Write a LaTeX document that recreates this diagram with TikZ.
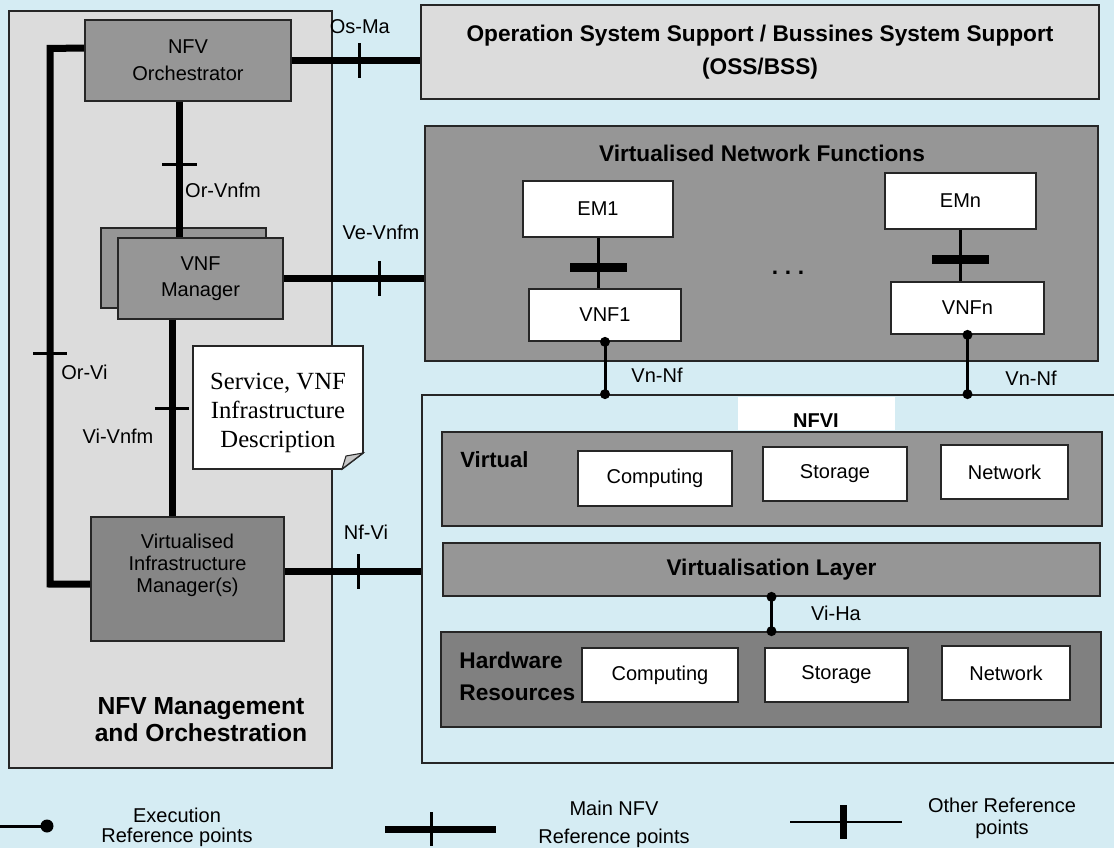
\documentclass[tikz,border=0pt]{standalone}
\usepackage{fontspec}
\setmainfont{Liberation Sans}
\newfontfamily\notefont{Liberation Serif}
\usetikzlibrary{calc, fit, positioning}

\definecolor{skyback}{RGB}{213,236,243}
\definecolor{panelgray}{RGB}{220,220,220}
\definecolor{boxgray}{RGB}{150,150,150}
\definecolor{vimgray}{RGB}{134,134,134}
\definecolor{hwgray}{RGB}{128,128,128}
\definecolor{foldgray}{RGB}{200,200,200}

\begin{document}
\begin{tikzpicture}[x=0.75pt, y=-0.75pt, semithick, font=\fontsize{15}{18}\selectfont]
\tikzstyle{outline}=[draw=black!85, line width=1.3pt, inner sep=0pt]
\tikzstyle{panel}=[outline, fill=panelgray]
\tikzstyle{grey box}=[outline, fill=boxgray, align=center]
\tikzstyle{white box}=[outline, fill=white, align=center]
\tikzstyle{headline}=[inner sep=0pt, align=center, font=\bfseries\fontsize{17}{24}\selectfont]
\tikzstyle{iface}=[inner sep=0pt]
\tikzstyle{main ref}=[line width=5.25pt]
\tikzstyle{exec ref}=[line width=2.25pt]
\tikzstyle{tickmark}=[sloped, fill=black, inner sep=0pt, minimum width=2.25pt, minimum height=26pt]
\tikzstyle{embar}=[fill=black, inner sep=0pt, minimum width=42.75pt, minimum height=6.75pt]
\tikzstyle{joint}=[circle, fill=black, inner sep=0pt, minimum size=7.5pt]
\tikzset{wh/.style 2 args={minimum width=#1*0.75pt, minimum height=#2*0.75pt}}

\useasboundingbox (0,0) rectangle (1114,848);
\fill[skyback] (0,0) rectangle (1114,848);

% management and orchestration
\node[panel, wh={323}{757}] (mano) at (170.5,389.5) {};
\node[headline, font=\bfseries\fontsize{18.5}{20}\selectfont] (manotitle) at (201,719.5) {NFV Management\\and Orchestration};
\node[grey box, wh={206}{81}, font=\fontsize{15}{20}\selectfont] (orch) at (188,60.5) {NFV\\Orchestrator};
\node[grey box, wh={165}{80}] (vnfmback) at (183.5,268) {};
\node[grey box, wh={165}{81}, font=\fontsize{15}{19.5}\selectfont] (vnfm) at (200.5,278.5) {VNF\\Manager};
\node[outline, fill=vimgray, wh={193}{124}] (vim) at (187.5,579) {};
\node[align=center, inner sep=0pt, font=\fontsize{15}{16.5}\selectfont] (vimtext) at (187.5,565) {Virtualised\\Infrastructure\\Manager(s)};

% description note
\draw[outline, fill=white] (193,346) -- (363,346) -- (363,453) -- (342,469) -- (193,469) -- cycle;
\draw[outline, line width=0.8pt, fill=foldgray] (342,469) -- (363,453) -- (346,456) -- cycle;
\node[align=center, inner sep=0pt, font=\notefont\fontsize{18.5}{22}\selectfont] (note) at (278,413) {Service, VNF\\Infrastructure\\Description};

% oss/bss
\node[panel, wh={678}{94}, align=center, font=\bfseries\fontsize{17}{24.75}\selectfont] (oss) at (760,52) {Operation System Support / Bussines System Support\\(OSS/BSS)};

% vnf block
\node[grey box, wh={673}{235}] (vnf) at (761.5,243.5) {};
\node[headline] (vnftitle) at (762,153) {Virtualised Network Functions};
\node[white box, wh={150}{56}] (ema) at (598,209) {EM1};
\node[white box, wh={152}{52}] (vnfa) at (605,315) {VNF1};
\node[white box, wh={151}{56}] (emn) at (960.5,201) {EMn};
\node[white box, wh={153}{52}] (vnfn) at (967.5,308) {VNFn};
\node[inner sep=0pt, font=\bfseries\fontsize{17}{20}\selectfont] (dots) at (788,273) {.\hspace{5pt}.\hspace{5pt}.};

\draw[exec ref] (ema) -- node[embar, pos=0.58] (bara) {} (ema.south |- vnfa.north);
\draw[exec ref] (emn) -- node[embar, pos=0.57] (barn) {} (emn.south |- vnfn.north);

% nfvi
\node[outline, fit={(422,395) (1130,763)}] (nfvi) {};
\node[fill=white, inner sep=0pt, wh={157}{33}] (nfvilabel) at (816.5,413.5) {};
\node[inner sep=0pt, font=\bfseries\fontsize{15}{18}\selectfont] (nfvitext) at (816,421) {NFVI};

\node[grey box, wh={660}{94}] (virtual) at (772,479) {};
\node[inner sep=0pt, anchor=west, font=\bfseries\fontsize{16.5}{20}\selectfont] (virtualtext) at (460,460) {Virtual};
\node[white box, wh={154}{55}] (vcomp) at (655,478.5) {Computing};
\node[white box, wh={144}{54}] (vstor) at (835,474) {Storage};
\node[white box, wh={127}{54}] (vnet) at (1004.5,472) {Network};

\node[grey box, wh={657}{53}, font=\bfseries\fontsize{17}{20}\selectfont] (vlayer) at (771.5,569.5) {Virtualisation Layer};

\node[outline, fill=hwgray, wh={660}{95}] (hw) at (771,679.5) {};
\node[inner sep=0pt, anchor=west, align=left, font=\bfseries\fontsize{17}{24}\selectfont] (hwtext) at (459,676) {Hardware\\Resources};
\node[white box, wh={156}{54}] (hcomp) at (660,675) {Computing};
\node[white box, wh={143}{54}] (hstor) at (836.5,675) {Storage};
\node[white box, wh={128}{54}] (hnet) at (1006,673) {Network};

% execution reference points
\draw[exec ref] (vnfa.south) node[joint] (ja) {} -- (vnfa.south |- nfvi.north) node[joint] (jb) {};
\draw[exec ref] (vnfn.south) node[joint] (jc) {} -- (vnfn.south |- nfvi.north) node[joint] (jd) {};
\draw[exec ref] (vlayer.south) node[joint] (je) {} -- (vlayer.south |- hw.north) node[joint] (jf) {};
\node[iface] (vnnfa) at (657,375) {Vn-Nf};
\node[iface] (vnnfb) at (1031,378) {Vn-Nf};
\node[iface] (viha) at (836,613) {Vi-Ha};

% main reference points
\coordinate (orchL) at ($(orch.north west)!0.35!(orch.south west)$);
\coordinate (orvitop) at (50,48.4);
\coordinate (orvibot) at (50,584);
\coordinate (vimL) at ($(vim.north west)!0.54!(vim.south west)$);
\coordinate (orvnfm) at ($(orch.south west)!0.46!(orch.south east)$);
\coordinate (vivnfm) at ($(vnfm.south west)!0.33!(vnfm.south east)$);
\coordinate (vimR) at ($(vim.north east)!0.44!(vim.south east)$);

\draw[main ref] (orch.east) -- node[tickmark, pos=0.53] (tosma) {} (orch.east -| oss.west);
\draw[main ref] (vnfm.east) -- node[tickmark, pos=0.68] (tvevnfm) {} (vnfm.east -| vnf.west);
\draw[main ref] (vimR) -- node[tickmark, pos=0.54] (tnfvi) {} (vimR -| nfvi.west);
\draw[main ref] (orvnfm) -- node[tickmark, pos=0.46] (torvnfm) {} (orvnfm |- vnfm.north);
\draw[main ref] (vivnfm) -- node[tickmark, pos=0.45] (tvivnfm) {} (vivnfm |- vim.north);
\draw[main ref] (orchL) -- (orvitop) -- node[tickmark, pos=0.57] (torvi) {} (orvibot) -- (vimL);

\node[iface, above=4pt of tosma] (osma) {Os-Ma};
\node[iface] (vevnfm) at (381,232) {Ve-Vnfm};
\node[iface] (nfvilbl) at (366,532) {Nf-Vi};
\node[iface] (orvnfmlbl) at (223,190) {Or-Vnfm};
\node[iface] (vivnfmlbl) at (118,436) {Vi-Vnfm};
\node[iface] (orvilbl) at (84.5,372) {Or-Vi};

% legend
\coordinate (exa) at (0,826);
\coordinate (exb) at (47,826);
\draw[exec ref] (exa) -- (exb) node[joint, minimum size=9.75pt] (lgjoint) {};
\node[align=center, inner sep=0pt, font=\fontsize{15}{15}\selectfont] (exectext) at (177,827) {Execution\\Reference points};

\coordinate (mna) at (385,829);
\coordinate (mnb) at (496,829);
\draw[main ref] (mna) -- node[tickmark, pos=0.42, minimum height=25.5pt] (lgmain) {} (mnb);
\node[align=center, inner sep=0pt, font=\fontsize{15}{21}\selectfont] (maintext) at (614,824) {Main NFV\\Reference points};

\coordinate (ota) at (790,822);
\coordinate (otb) at (902,822);
\draw[line width=1.75pt] (ota) -- node[fill=black, inner sep=0pt, minimum width=5.25pt, minimum height=25.5pt, pos=0.48] (lgother) {} (otb);
\node[align=center, inner sep=0pt, font=\fontsize{15}{16.5}\selectfont] (othertext) at (1002,818) {Other Reference\\points};
\end{tikzpicture}
\end{document}
